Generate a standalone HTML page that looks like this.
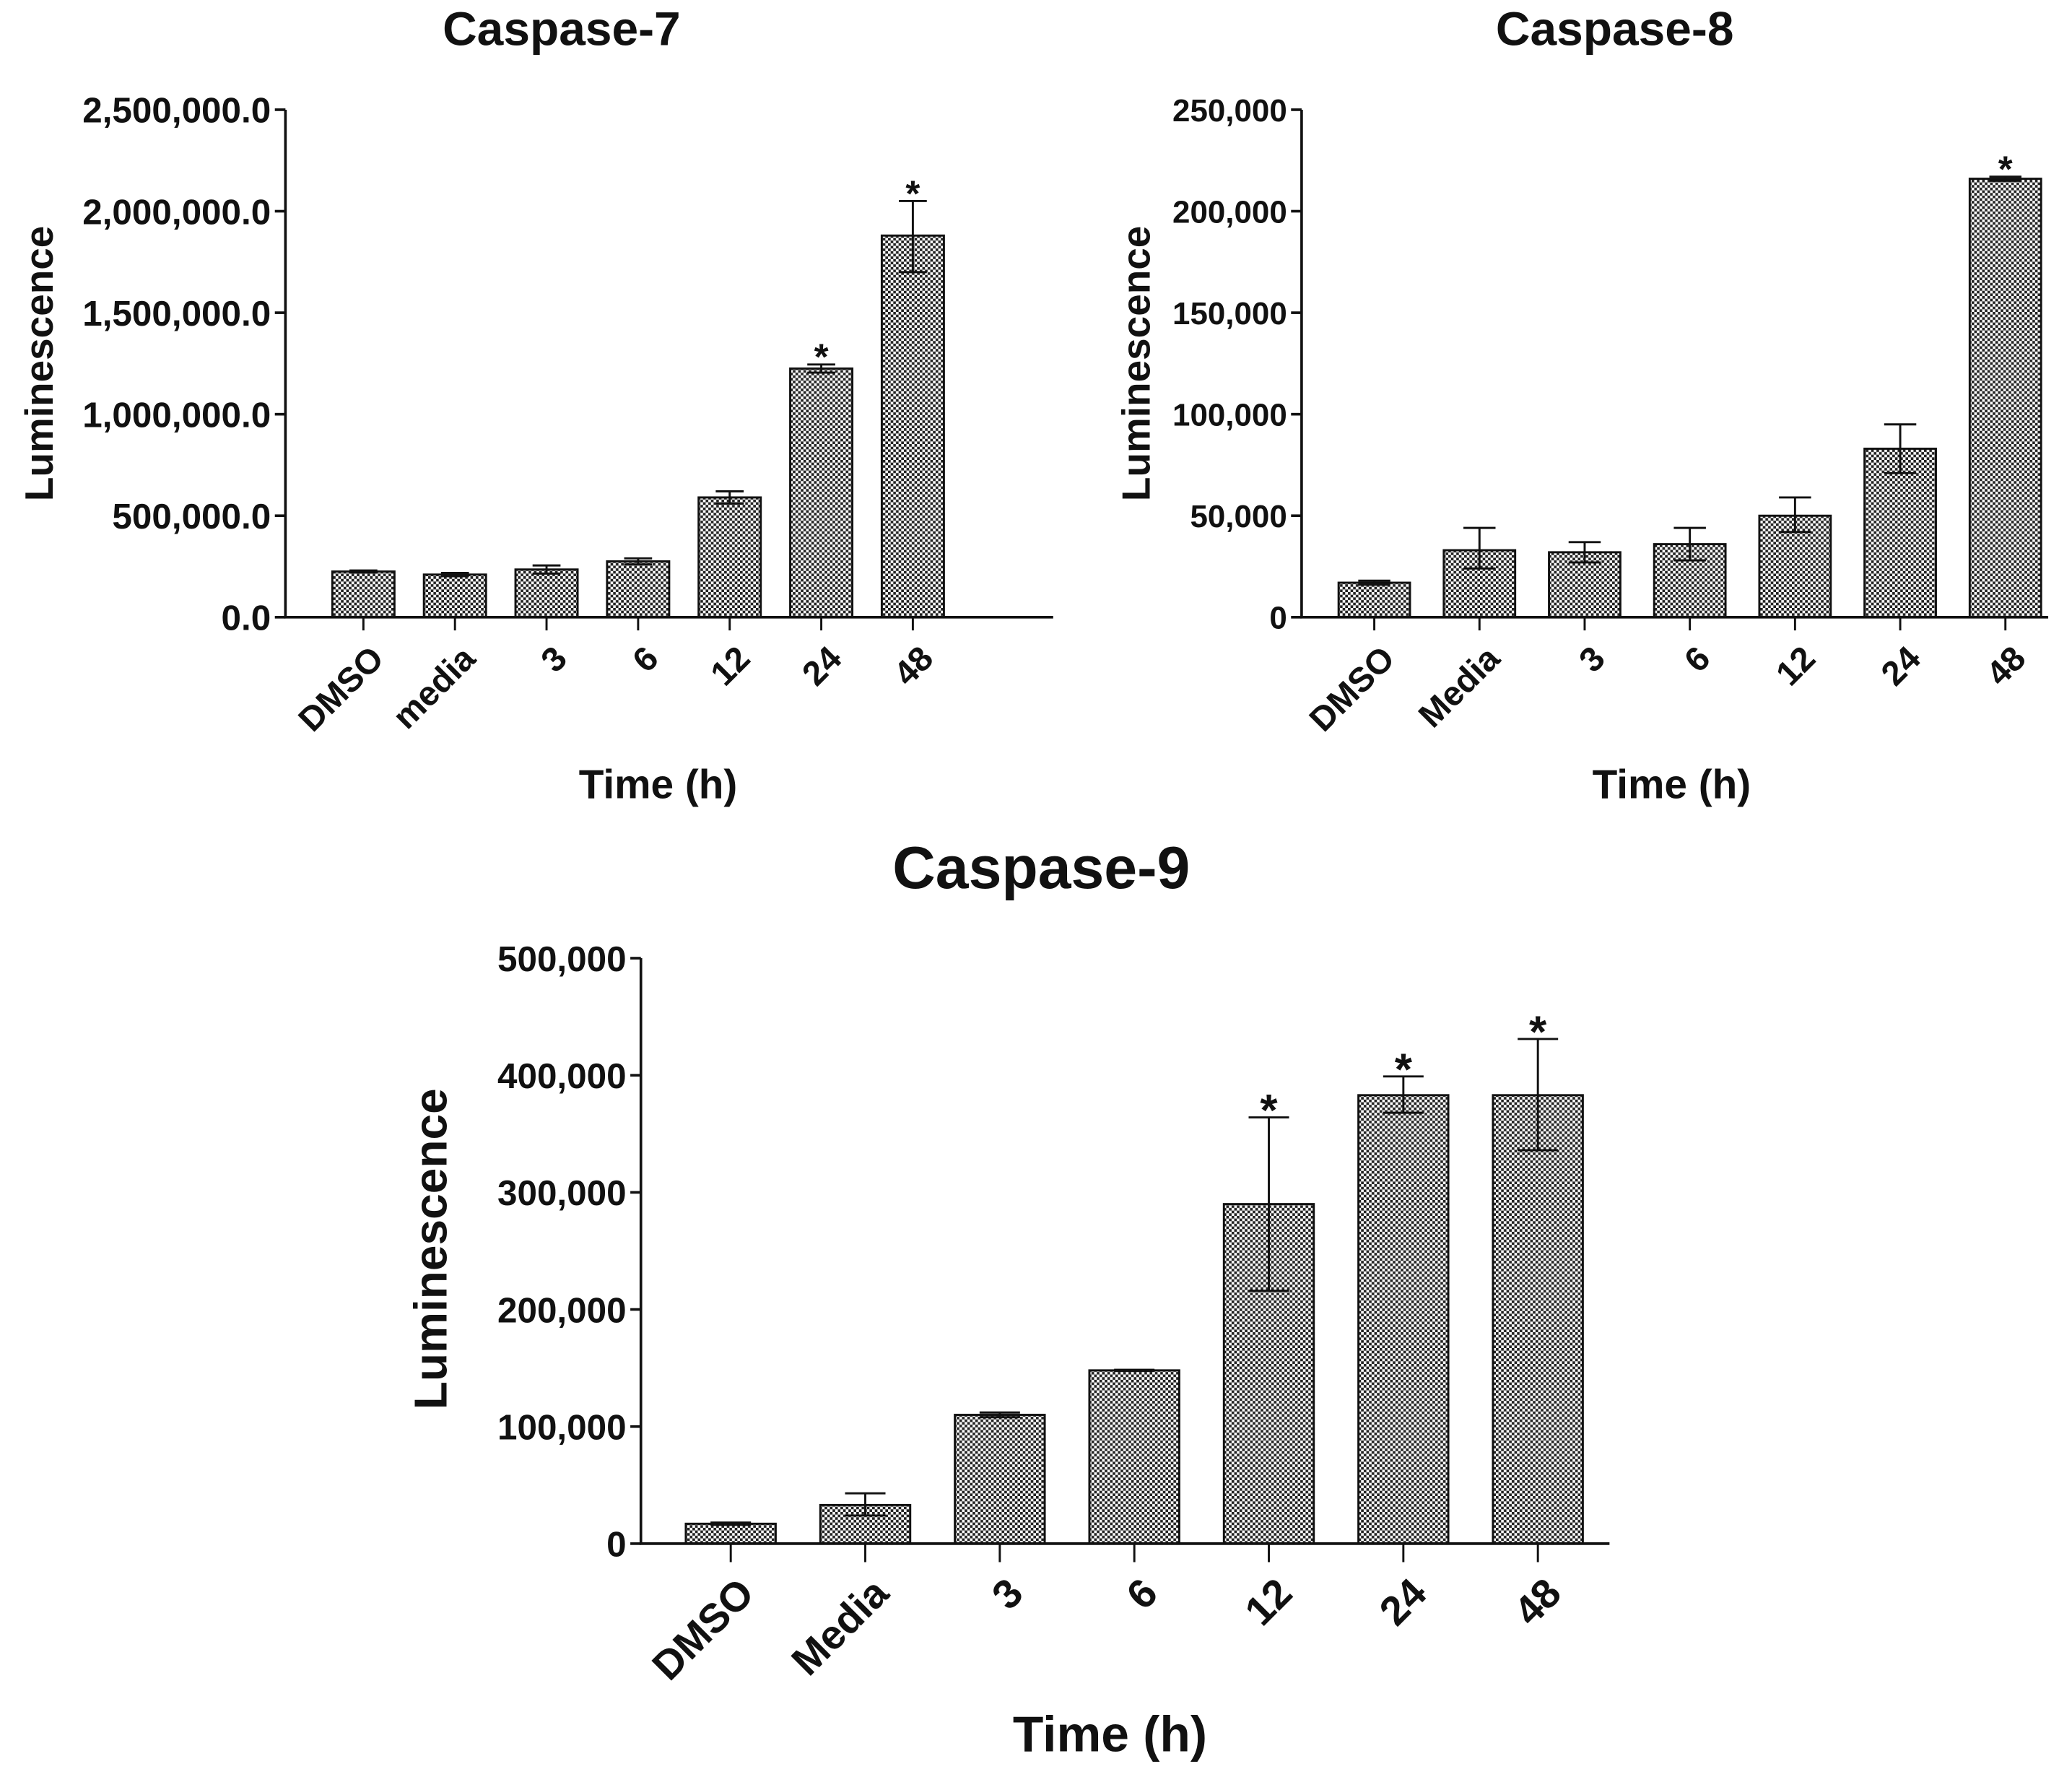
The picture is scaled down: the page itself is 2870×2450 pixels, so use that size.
<!DOCTYPE html>
<html><head><meta charset="utf-8"><style>
html,body{margin:0;padding:0;background:#fff}
svg{display:block}
text{font-family:"Liberation Sans",Arial,sans-serif;font-weight:bold;fill:#111}
</style></head><body>
<svg id="fig" width="2870" height="2450" viewBox="0 0 1568 1338.5" xmlns="http://www.w3.org/2000/svg">
<defs>
<pattern id="chk" width="4" height="4" patternUnits="userSpaceOnUse">
<rect width="4" height="4" fill="#fff"/><rect width="2" height="2" fill="#222"/><rect x="2" y="2" width="2" height="2" fill="#222"/>
</pattern>
</defs>
</svg>
<script>
const cats7 = ["DMSO","media","3","6","12","24","48"];
const vals7 = [225000,210000,235000,275000,590000,1225000,1880000];
const hi7 = [230000,218000,255000,290000,620000,1245000,2050000];
const lo7 = [220000,202000,215000,260000,560000,1205000,1700000];
const star7 = [0,0,0,0,0,1,1];
const ticks7 = [0,500000,1000000,1500000,2000000,2500000];
const tickLabels7 = ["0.0","500,000.0","1,000,000.0","1,500,000.0","2,000,000.0","2,500,000.0"];

const cats8 = ["DMSO","Media","3","6","12","24","48"];
const vals8 = [17000,33000,32000,36000,50000,83000,216000];
const hi8 = [18000,44000,37000,44000,59000,95000,217000];
const lo8 = [16000,24000,27000,28000,42000,71000,215000];
const star8 = [0,0,0,0,0,0,1];
const ticks8 = [0,50000,100000,150000,200000,250000];
const tickLabels8 = ["0","50,000","100,000","150,000","200,000","250,000"];

const cats9 = ["DMSO","Media","3","6","12","24","48"];
const vals9 = [17000,33000,110000,148000,290000,383000,383000];
const hi9 = [18000,43000,112000,148500,364000,399000,431000];
const lo9 = [16000,24000,108000,147500,216000,368000,336000];
const star9 = [0,0,0,0,1,1,1];
const ticks9 = [0,100000,200000,300000,400000,500000];
const tickLabels9 = ["0","100,000","200,000","300,000","400,000","500,000"];

const NS="http://www.w3.org/2000/svg";
const svg=document.getElementById('fig');
function mk(tag,attrs,parent){const e=document.createElementNS(NS,tag);for(const k in attrs)e.setAttribute(k,attrs[k]);(parent||svg).appendChild(e);return e;}

function chart(cfg){
  const g=mk('g',{});
  
  
  const max=cfg.ticks[cfg.ticks.length-1];
  const y=v=>cfg.y0-(v/max)*(cfg.y0-cfg.yTop);
  const x=i=>cfg.x0c+i*cfg.step;
  const t=mk('text',{x:cfg.titleX,y:cfg.titleY,'text-anchor':'middle','font-size':cfg.titleFs},g);t.textContent=cfg.title;
  
  
  const yl=mk('text',{x:0,y:0,'text-anchor':'middle','font-size':cfg.labFs,transform:`translate(${cfg.ylX},${cfg.ylY}) rotate(-90)`},g);yl.textContent="Luminescence";
  
  
  const xl=mk('text',{x:cfg.xlX,y:cfg.xlY,'text-anchor':'middle','font-size':cfg.xlFs},g);xl.textContent="Time (h)";
  
  
  cfg.vals.forEach((v,i)=>{
    const b=mk('rect',{x:x(i)-cfg.bw/2,y:y(v),width:cfg.bw,height:cfg.y0-y(v),fill:'url(#chk)',stroke:'#111','stroke-width':1.6},g);
    
    
    const cw=cfg.bw*0.45;
    const eb=mk('path',{d:`M${x(i)},${y(cfg.lo[i])}V${y(cfg.hi[i])}M${x(i)-cw/2},${y(cfg.hi[i])}H${x(i)+cw/2}M${x(i)-cw/2},${y(cfg.lo[i])}H${x(i)+cw/2}`,stroke:'#111','stroke-width':1.6,fill:'none'},g);
    
    
    if(cfg.star[i]){
      const s=mk('text',{x:x(i),y:y(cfg.hi[i])-8+cfg.starFs*0.42,'text-anchor':'middle','font-size':cfg.starFs},g);s.textContent="*";
      
      
    }
    mk('line',{x1:x(i),x2:x(i),y1:cfg.y0,y2:cfg.y0+cfg.tk,stroke:'#111','stroke-width':1.6},g);
    const lx=x(i)+4, ly=cfg.y0+cfg.tk+10;
    const xt=mk('text',{x:0,y:0,'text-anchor':'end','font-size':cfg.xtFs,transform:`translate(${lx},${ly}) rotate(-45) translate(0,${cfg.xtFs*0.7})`},g);xt.textContent=cfg.cats[i];
    
    
  });
  const ax=mk('path',{d:`M${cfg.x0},${cfg.yTop}V${cfg.y0}H${cfg.xEnd}`,stroke:'#111','stroke-width':2,fill:'none'},g);
  
  
  cfg.ticks.forEach((tv,i)=>{
    mk('line',{x1:cfg.x0-8,x2:cfg.x0,y1:y(tv),y2:y(tv),stroke:'#111','stroke-width':2},g);
    const tl=mk('text',{x:cfg.x0-11,y:y(tv)+cfg.ytFs*0.36,'text-anchor':'end','font-size':cfg.ytFs},g);tl.textContent=cfg.tickLabels[i];
    
    
  });
}

chart({name:'caspase-7-chart',title:'Caspase-7',titleX:425,titleY:34,titleFs:36,cats:cats7,vals:vals7,hi:hi7,lo:lo7,star:star7,ticks:ticks7,tickLabels:tickLabels7,
  x0:216,xEnd:797,y0:467,yTop:83,x0c:275,step:69.3,bw:47,tk:10,ytFs:27,xtFs:26,labFs:30,xlFs:31,starFs:28,ylX:40,ylY:275,xlX:498,xlY:604});
chart({name:'caspase-8-chart',title:'Caspase-8',titleX:1222,titleY:34,titleFs:36,cats:cats8,vals:vals8,hi:hi8,lo:lo8,star:star8,ticks:ticks8,tickLabels:tickLabels8,
  x0:985,xEnd:1550,y0:467,yTop:83,x0c:1040,step:79.6,bw:54,tk:10,ytFs:24,xtFs:26,labFs:30,xlFs:31,starFs:28,ylX:870,ylY:275,xlX:1265,xlY:604});
chart({name:'caspase-9-chart',title:'Caspase-9',titleX:788,titleY:672,titleFs:45,cats:cats9,vals:vals9,hi:hi9,lo:lo9,star:star9,ticks:ticks9,tickLabels:tickLabels9,
  x0:485,xEnd:1218,y0:1168,yTop:725,x0c:553,step:101.8,bw:68,tk:14,ytFs:27,xtFs:31,labFs:35,xlFs:38,starFs:34,ylX:338,ylY:945,xlX:840,xlY:1325});
</script>
</body></html>
